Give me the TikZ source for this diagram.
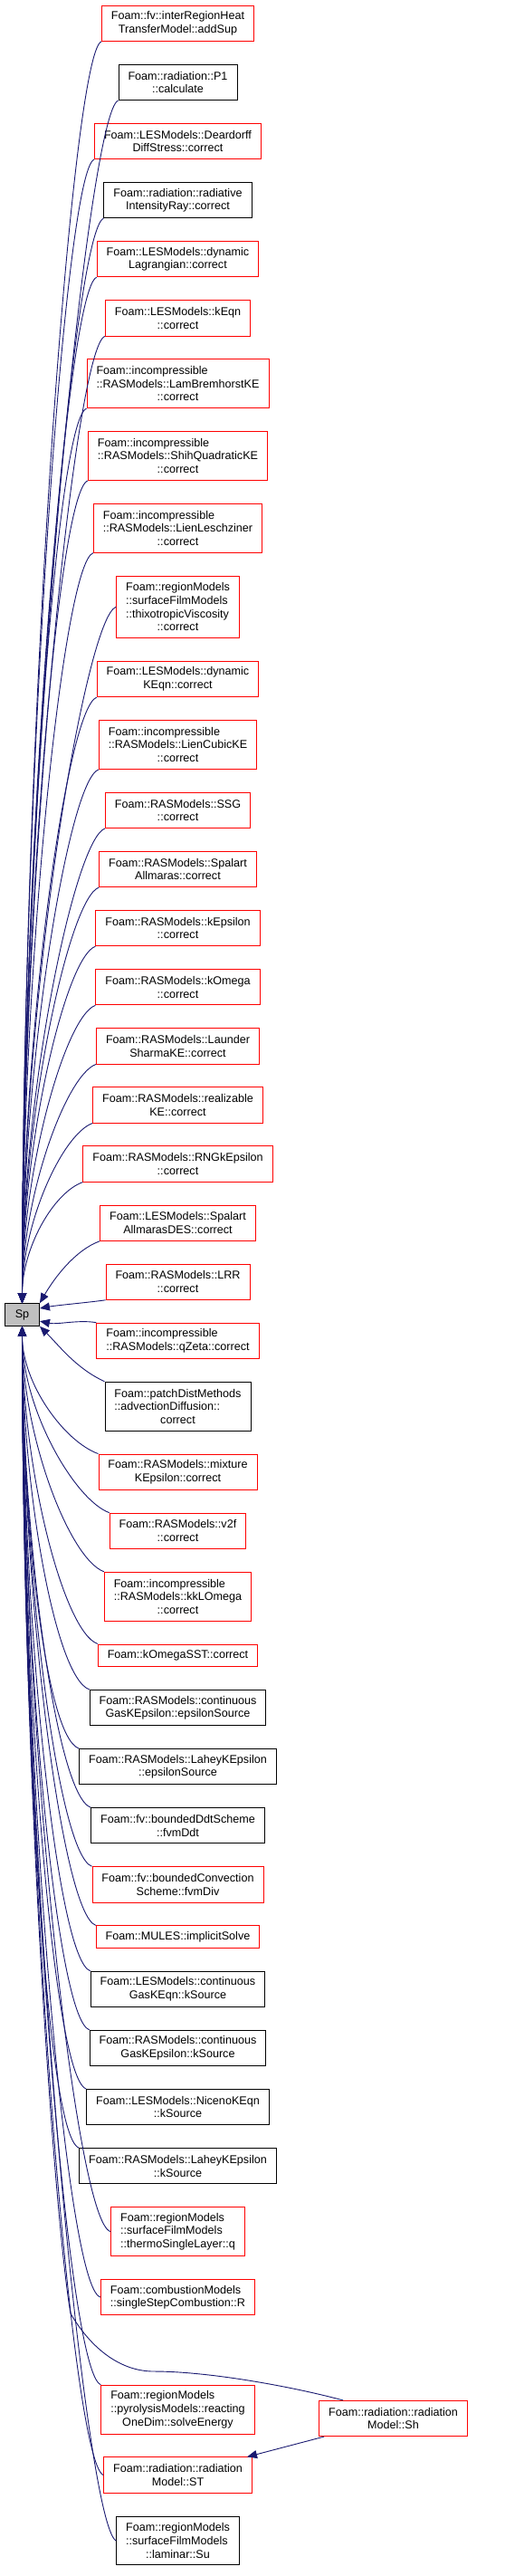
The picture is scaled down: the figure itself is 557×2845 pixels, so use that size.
\documentclass[tikz,border=0pt]{standalone}
\usepackage{fontspec}
\setmainfont{Liberation Sans}
\usetikzlibrary{arrows.meta,positioning,calc}
\definecolor{edgeblue}{HTML}{191970}
\definecolor{cutred}{HTML}{FF0000}
\definecolor{spgray}{HTML}{BFBFBF}
\tikzset{
  fn/.style={
    rectangle, draw=black, line width=0.9pt, fill=white,
    inner xsep=10.5pt, inner ysep=1pt, align=center,
    font=\fontsize{12.6}{14.65}\selectfont
  },
  nrows/.style={minimum height={10pt+14.65pt*#1}},
  full/.style={fn},
  cut/.style={fn, draw=cutred},
  call/.style={-{Triangle[length=11pt,width=9pt]}, line width=0.9pt, draw=edgeblue}
}
\newcommand{\callabove}[1]{
  \draw[call] (#1) .. controls +(200:35) and ($(sp.north)!0.45!(sp.north |- #1)$) .. (sp.north);
}
\newcommand{\callbelow}[2][160]{
  \draw[call] (#2) .. controls +(#1:40) and ($(sp.south)!0.45!(sp.south |- #2)$) .. (sp.south);
}
\begin{document}
\begin{tikzpicture}[x=1pt, y=1pt, node distance=24.9pt]
\useasboundingbox (0,0) rectangle (557,-2845);
\node[full, fill=spgray, minimum width=38pt, nrows=1] (sp) at (24.5,-1452) {Sp};
\node[cut, nrows=2] (addsup) at (196.5,-25.8) {Foam::fv::interRegionHeat\\TransferModel::addSup};
\node[full, nrows=2, below=of addsup] (p1calc) {Foam::radiation::P1\\::calculate};
\node[cut, nrows=2, below=of p1calc] (deardorff) {Foam::LESModels::Deardorff\\DiffStress::correct};
\node[full, nrows=2, below=of deardorff] (radray) {Foam::radiation::radiative\\IntensityRay::correct};
\node[cut, nrows=2, below=of radray] (dynlag) {Foam::LESModels::dynamic\\Lagrangian::correct};
\node[cut, nrows=2, below=of dynlag] (keqn) {Foam::LESModels::kEqn\\::correct};
\node[cut, nrows=3, align=left, below=of keqn] (lambrem) {Foam::incompressible\\::RASModels::LamBremhorstKE\\\hfil::correct};
\node[cut, nrows=3, align=left, below=of lambrem] (shihquad) {Foam::incompressible\\::RASModels::ShihQuadraticKE\\\hfil::correct};
\node[cut, nrows=3, align=left, below=of shihquad] (lienlesch) {Foam::incompressible\\::RASModels::LienLeschziner\\\hfil::correct};
\node[cut, nrows=4, align=left, below=of lienlesch] (thixo) {Foam::regionModels\\::surfaceFilmModels\\::thixotropicViscosity\\\hfil::correct};
\node[cut, nrows=2, below=of thixo] (dynkeqn) {Foam::LESModels::dynamic\\KEqn::correct};
\node[cut, nrows=3, align=left, below=of dynkeqn] (liencubic) {Foam::incompressible\\::RASModels::LienCubicKE\\\hfil::correct};
\node[cut, nrows=2, below=of liencubic] (ssg) {Foam::RASModels::SSG\\::correct};
\node[cut, nrows=2, below=of ssg] (spalart) {Foam::RASModels::Spalart\\Allmaras::correct};
\node[cut, nrows=2, below=of spalart] (kepsilon) {Foam::RASModels::kEpsilon\\::correct};
\node[cut, nrows=2, below=of kepsilon] (komega) {Foam::RASModels::kOmega\\::correct};
\node[cut, nrows=2, below=of komega] (launder) {Foam::RASModels::Launder\\SharmaKE::correct};
\node[cut, nrows=2, below=of launder] (realizable) {Foam::RASModels::realizable\\KE::correct};
\node[cut, nrows=2, below=of realizable] (rngkeps) {Foam::RASModels::RNGkEpsilon\\::correct};
\node[cut, nrows=2, below=of rngkeps] (spalartdes) {Foam::LESModels::Spalart\\AllmarasDES::correct};
\node[cut, nrows=2, below=of spalartdes] (lrr) {Foam::RASModels::LRR\\::correct};
\node[cut, nrows=2, align=left, below=of lrr] (qzeta) {Foam::incompressible\\::RASModels::qZeta::correct};
\node[full, nrows=3, align=left, below=of qzeta] (patchdist) {Foam::patchDistMethods\\::advectionDiffusion::\\\hfil correct};
\node[cut, nrows=2, below=of patchdist] (mixkeps) {Foam::RASModels::mixture\\KEpsilon::correct};
\node[cut, nrows=2, below=of mixkeps] (vtwof) {Foam::RASModels::v2f\\::correct};
\node[cut, nrows=3, align=left, below=of vtwof] (kklomega) {Foam::incompressible\\::RASModels::kkLOmega\\\hfil::correct};
\node[cut, nrows=1, below=of kklomega] (komegasst) {Foam::kOmegaSST::correct};
\node[full, nrows=2, below=of komegasst] (cgkepseps) {Foam::RASModels::continuous\\GasKEpsilon::epsilonSource};
\node[full, nrows=2, below=of cgkepseps] (laheyeps) {Foam::RASModels::LaheyKEpsilon\\::epsilonSource};
\node[full, nrows=2, below=of laheyeps] (bddt) {Foam::fv::boundedDdtScheme\\::fvmDdt};
\node[cut, nrows=2, below=of bddt] (bconv) {Foam::fv::boundedConvection\\Scheme::fvmDiv};
\node[cut, nrows=1, below=of bconv] (implicit) {Foam::MULES::implicitSolve};
\node[full, nrows=2, below=of implicit] (cgkeqnk) {Foam::LESModels::continuous\\GasKEqn::kSource};
\node[full, nrows=2, below=of cgkeqnk] (cgkepsk) {Foam::RASModels::continuous\\GasKEpsilon::kSource};
\node[full, nrows=2, below=of cgkepsk] (niceno) {Foam::LESModels::NicenoKEqn\\::kSource};
\node[full, nrows=2, below=of niceno] (laheyk) {Foam::RASModels::LaheyKEpsilon\\::kSource};
\node[cut, nrows=3, align=left, below=of laheyk] (thermoq) {Foam::regionModels\\::surfaceFilmModels\\::thermoSingleLayer::q};
\node[cut, nrows=2, align=left, below=of thermoq] (singlestep) {Foam::combustionModels\\::singleStepCombustion::R};
\node[cut, nrows=3, align=left, below=76.5pt of singlestep] (pyrolysis) {Foam::regionModels\\::pyrolysisModels::reacting\\\hfil OneDim::solveEnergy};
\node[cut, nrows=2, below=of pyrolysis] (radst) {Foam::radiation::radiation\\Model::ST};
\node[full, nrows=3, align=left, below=of radst] (laminarsu) {Foam::regionModels\\::surfaceFilmModels\\\hfil::laminar::Su};
\node[cut, nrows=2] (radsh) at (434.5,-2671) {Foam::radiation::radiation\\Model::Sh};
% callers above Sp
\callabove{addsup.south west}
\callabove{p1calc.south west}
\callabove{deardorff.south west}
\callabove{radray.south west}
\callabove{dynlag.south west}
\callabove{keqn.south west}
\callabove{lambrem.south west}
\callabove{shihquad.south west}
\callabove{lienlesch.south west}
\callabove{thixo.west}
\callabove{dynkeqn.south west}
\callabove{liencubic.south west}
\callabove{ssg.south west}
\callabove{spalart.south west}
\callabove{kepsilon.south west}
\callabove{komega.south west}
\callabove{launder.south west}
\callabove{realizable.south west}
\callabove{rngkeps.south west}
\draw[call] (spalartdes.south west) .. controls +(200:30) and +(60:30) .. (sp.north east);
\draw[call] (lrr.south west) .. controls +(188:20) and +(10:20) .. (sp.20);
\draw[call] (qzeta.north west) .. controls +(170:20) and +(-12:20) .. (sp.-20);
% callers below Sp
\draw[call] (patchdist.north west) .. controls +(155:35) and +(-45:30) .. (sp.south east);
\callbelow{mixkeps.north west}
\callbelow{vtwof.north west}
\callbelow{kklomega.north west}
\callbelow{komegasst.north west}
\callbelow{cgkepseps.north west}
\callbelow{laheyeps.north west}
\callbelow{bddt.north west}
\callbelow{bconv.north west}
\callbelow{implicit.north west}
\callbelow{cgkeqnk.north west}
\callbelow{cgkepsk.north west}
\callbelow{niceno.north west}
\callbelow{laheyk.north west}
\callbelow[165]{thermoq.west}
\callbelow[165]{singlestep.west}
\callbelow{pyrolysis.north west}
\callbelow[155]{radst.west}
\callbelow[150]{laminarsu.west}
% Sh calls ST and Sp
\coordinate (shdip) at (170,-2619);
\coordinate (shlane) at (78,-2555);
\draw[call] (radsh) -- (radst);
\draw[call] ([xshift=27pt]radsh.north west) .. controls +(165:60) and +(60,0) .. (shdip)
  .. controls +(-40,0) and +(-60:40) .. (shlane)
  .. controls +(100:100) and ($(sp.south)!0.45!(sp.south |- shlane)$) .. (sp.south);
\end{tikzpicture}
\end{document}
